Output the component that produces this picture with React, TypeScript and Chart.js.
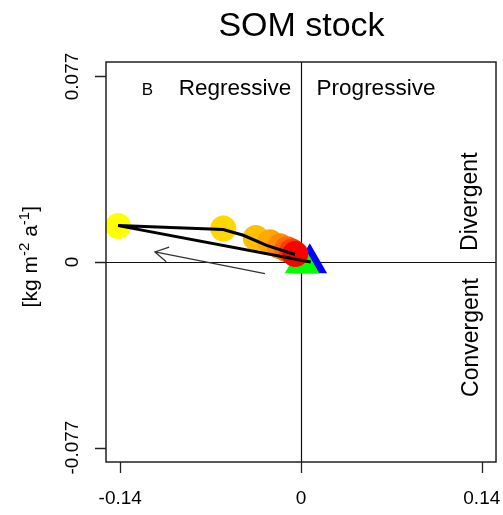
import React, { useEffect, useRef } from 'react';
import { Chart, registerables } from 'chart.js';

Chart.register(...registerables);

// Data
const circleX = [-0.1416, -0.0602, -0.035, -0.024, -0.0163, -0.0108, -0.007, -0.0045];
const circleY = [0.0149, 0.0139, 0.01, 0.0082, 0.0065, 0.0053, 0.0044, 0.0033];
const circleColors = ['#FFFF00', '#FFD800', '#FFC000', '#FFA800', '#FF8C00', '#FF6800', '#FF3C00', '#FF0000'];
const pathX = [0.0075, -0.1416, -0.0602, -0.0447, -0.0266, -0.0046];
const pathY = [0.0, 0.0151, 0.0135, 0.0111, 0.0069, 0.0031];
const greenX = [0.0008];
const greenY = [-0.0005];
const blueX = [0.0068];
const blueY = [-0.0005];
const arrowX = [-0.0279, -0.1131];
const arrowY = [-0.0048, 0.0042];
const xTicks = [-0.14, 0, 0.14];
const xTickLabels = ['-0.14', '0', '0.14'];
const yTicks = [-0.077, 0, 0.077];
const yTickLabels = ['-0.077', '0', '0.077'];

const FONT = '"Liberation Sans", Arial, Helvetica, sans-serif';

const decorPlugin = {
  id: 'decor',
  beforeDatasetsDraw(chart: any) {
    const { ctx, chartArea, scales } = chart;
    const xs = scales.x;
    const ys = scales.y;
    ctx.save();
    ctx.strokeStyle = '#111';
    ctx.lineWidth = 1.2;
    const x0 = Math.round(xs.getPixelForValue(0)) + 0.5;
    const y0 = Math.round(ys.getPixelForValue(0)) + 0.5;
    ctx.beginPath();
    ctx.moveTo(x0, chartArea.top);
    ctx.lineTo(x0, chartArea.bottom);
    ctx.moveTo(chartArea.left, y0);
    ctx.lineTo(chartArea.right, y0);
    ctx.stroke();
    ctx.restore();
  },
  afterDatasetsDraw(chart: any) {
    const { ctx, chartArea, scales } = chart;
    const xs = scales.x;
    const ys = scales.y;
    ctx.save();

    // arrow
    const ax1 = xs.getPixelForValue(arrowX[0]);
    const ay1 = ys.getPixelForValue(arrowY[0]);
    const ax2 = xs.getPixelForValue(arrowX[1]);
    const ay2 = ys.getPixelForValue(arrowY[1]);
    ctx.strokeStyle = '#333';
    ctx.lineWidth = 1.3;
    ctx.beginPath();
    ctx.moveTo(ax1, ay1);
    ctx.lineTo(ax2, ay2);
    const ang = Math.atan2(ay2 - ay1, ax2 - ax1);
    const hl = 15;
    const ha = Math.PI / 6;
    ctx.moveTo(ax2 - hl * Math.cos(ang - ha), ay2 - hl * Math.sin(ang - ha));
    ctx.lineTo(ax2, ay2);
    ctx.lineTo(ax2 - hl * Math.cos(ang + ha), ay2 - hl * Math.sin(ang + ha));
    ctx.stroke();

    // box
    ctx.strokeStyle = '#222';
    ctx.lineWidth = 1.5;
    ctx.strokeRect(chartArea.left, chartArea.top, chartArea.right - chartArea.left, chartArea.bottom - chartArea.top);

    // ticks
    ctx.lineWidth = 1.3;
    ctx.beginPath();
    xTicks.forEach((v) => {
      const px = Math.round(xs.getPixelForValue(v)) + 0.5;
      ctx.moveTo(px, chartArea.bottom);
      ctx.lineTo(px, chartArea.bottom + 11);
    });
    yTicks.forEach((v) => {
      const py = Math.round(ys.getPixelForValue(v)) + 0.5;
      ctx.moveTo(chartArea.left - 11, py);
      ctx.lineTo(chartArea.left, py);
    });
    ctx.stroke();

    ctx.fillStyle = '#000';
    // x tick labels
    ctx.font = `19px ${FONT}`;
    ctx.textAlign = 'center';
    ctx.textBaseline = 'alphabetic';
    xTicks.forEach((v, i) => {
      ctx.fillText(xTickLabels[i], xs.getPixelForValue(v), 504);
    });
    // y tick labels (rotated)
    yTicks.forEach((v, i) => {
      ctx.save();
      ctx.translate(78, ys.getPixelForValue(v));
      ctx.rotate(-Math.PI / 2);
      ctx.fillText(yTickLabels[i], 0, 0);
      ctx.restore();
    });

    // title
    ctx.font = `34px ${FONT}`;
    ctx.fillText('SOM stock', 301.5, 36);

    // quadrant labels
    ctx.font = `17px ${FONT}`;
    ctx.fillText('B', 147.5, 95);
    ctx.font = `22.5px ${FONT}`;
    ctx.fillText('Regressive', 235, 95);
    ctx.fillText('Progressive', 376, 95);

    ctx.font = `23px ${FONT}`;
    ctx.save();
    ctx.translate(477, 201.7);
    ctx.rotate(-Math.PI / 2);
    ctx.fillText('Divergent', 0, 0);
    ctx.restore();
    ctx.save();
    ctx.translate(477.5, 337.5);
    ctx.rotate(-Math.PI / 2);
    ctx.fillText('Convergent', 0, 0);
    ctx.restore();

    // y axis title with superscripts
    const parts: [string, number, number][] = [
      ['[kg m', 21, 0],
      ['-2', 15, -8],
      [' a', 21, 0],
      ['-1', 15, -8],
      [']', 21, 0],
    ];
    let total = 0;
    parts.forEach(([t, s]) => {
      ctx.font = `${s}px ${FONT}`;
      total += ctx.measureText(t).width;
    });
    ctx.save();
    ctx.translate(37, 256.7);
    ctx.rotate(-Math.PI / 2);
    ctx.textAlign = 'left';
    let cx = -total / 2;
    parts.forEach(([t, s, dy]) => {
      ctx.font = `${s}px ${FONT}`;
      ctx.fillText(t, cx, dy);
      cx += ctx.measureText(t).width;
    });
    ctx.restore();

    ctx.restore();
  },
};

export default function App() {
  const ref = useRef<HTMLCanvasElement | null>(null);
  useEffect(() => {
    if (!ref.current) return;
    const chart = new Chart(ref.current, {
      type: 'scatter',
      data: {
        datasets: [
          {
            label: 'path',
            data: pathX.map((x, i) => ({ x, y: pathY[i] })),
            showLine: true,
            borderColor: '#000',
            borderWidth: 3,
            pointRadius: 0,
            fill: false,
            clip: false,
          } as any,
          {
            label: 'circles',
            data: circleX.map((x, i) => ({ x, y: circleY[i] })),
            backgroundColor: circleColors,
            borderWidth: 0,
            pointRadius: 13,
            clip: false,
          } as any,
          {
            label: 'green',
            data: greenX.map((x, i) => ({ x, y: greenY[i] })),
            pointStyle: 'triangle',
            backgroundColor: '#00FF00',
            borderWidth: 0,
            pointRadius: 20,
            clip: false,
          } as any,
          {
            label: 'blue',
            data: blueX.map((x, i) => ({ x, y: blueY[i] })),
            pointStyle: 'triangle',
            backgroundColor: '#0000FF',
            borderWidth: 0,
            pointRadius: 20,
            clip: false,
          } as any,
        ],
      },
      options: {
        animation: false,
        responsive: false,
        events: [],
        layout: { autoPadding: false, padding: { left: 106, right: 7, top: 62, bottom: 53 } },
        plugins: { legend: { display: false }, tooltip: { enabled: false }, title: { display: false } },
        scales: {
          x: { type: 'linear', min: -0.151, max: 0.151, display: false },
          y: { type: 'linear', min: -0.083, max: 0.083, display: false },
        },
      },
      plugins: [decorPlugin],
    });
    return () => chart.destroy();
  }, []);
  return (
    <div style={{ position: 'fixed', left: 0, top: 0, width: 503, height: 515, background: '#fff' }}>
      <canvas ref={ref} width={503} height={515} style={{ display: 'block', width: 503, height: 515 }} />
    </div>
  );
}
